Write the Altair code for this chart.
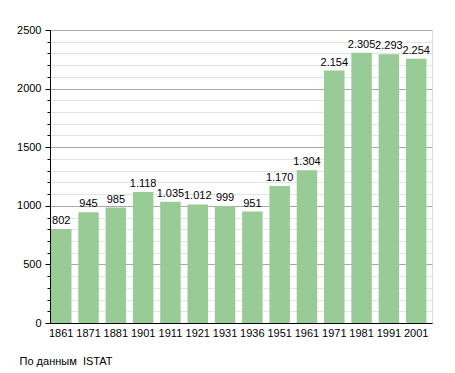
import altair as alt
import pandas as pd

years = ["1861", "1871", "1881", "1901", "1911", "1921", "1931", "1936",
         "1951", "1961", "1971", "1981", "1991", "2001"]
population = [802, 945, 985, 1118, 1035, 1012, 999, 951, 1170, 1304,
              2154, 2305, 2293, 2254]
major_ticks = [0, 500, 1000, 1500, 2000, 2500]
minor_ticks = list(range(0, 2600, 100))

df = pd.DataFrame({"year": years, "pop": population})

FONT = "Liberation Sans"
W, H = 382, 293

x = alt.X("year:N", sort=years, title=None,
          scale=alt.Scale(paddingInner=0.25, paddingOuter=0.12, align=0.15),
          axis=alt.Axis(labelAngle=0, ticks=False, domainColor="#000",
                        labelColor="#000", labelFontSize=11, labelFont=FONT,
                        labelPadding=4))

yscale = alt.Scale(domain=[0, 2500], nice=False)

bars = alt.Chart(df).mark_bar(color="#98cb95").encode(
    x=x,
    y=alt.Y("pop:Q", scale=yscale, title=None,
            axis=alt.Axis(orient="left", values=major_ticks, grid=True,
                          gridColor="#a8a8a8", gridWidth=1, tickSize=5,
                          tickColor="#000", domainColor="#000",
                          labelColor="#000", labelFontSize=11, labelFont=FONT,
                          labelPadding=4, format="d", zindex=0))
)

text = alt.Chart(df).transform_calculate(
    lbl="replace(format(datum.pop, ','), ',', '.')"
).mark_text(baseline="bottom", dy=-3, fontSize=11, font=FONT, color="#000").encode(
    x=x,
    y=alt.Y("pop:Q", scale=yscale, title=None,
            axis=alt.Axis(orient="left", values=minor_ticks, grid=True,
                          gridColor="#e4e4e4", gridWidth=1, tickSize=3,
                          tickColor="#000", labels=False, domain=False,
                          zindex=0)),
    text="lbl:N"
)

chart = alt.layer(text, bars).resolve_axis(y="independent").properties(
    width=W, height=H,
    autosize=alt.AutoSizeParams(type="none"),
    padding={"left": 42, "top": 22, "right": 15, "bottom": 45},
    title=alt.TitleParams(text="По данным\u00a0 ISTAT", orient="bottom",
                          anchor="start", fontSize=11, fontWeight="normal",
                          font=FONT, color="#000", dx=3, offset=18)
).configure_view(stroke=None).configure(background="white")

chart.save("out.html", embed_options={"renderer": "svg", "actions": False})
